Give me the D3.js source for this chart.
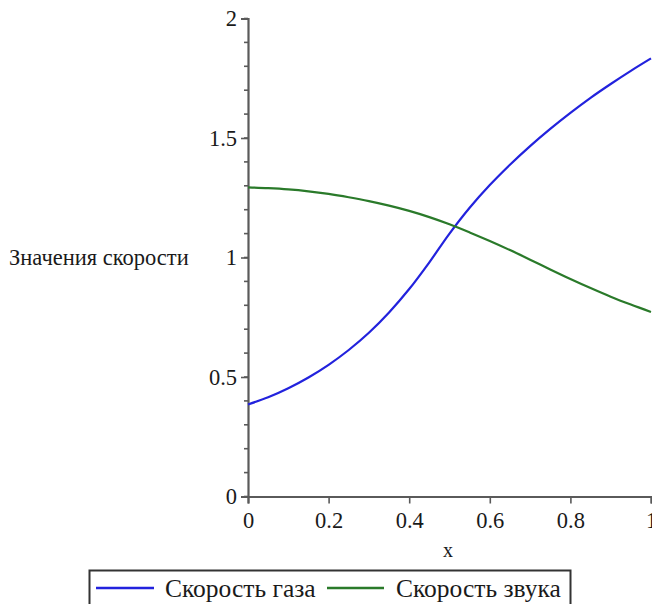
<!DOCTYPE html>
<html>
<head>
<meta charset="utf-8">
<script src="https://cdn.jsdelivr.net/npm/d3@7"></script>
<style>
  html, body { margin: 0; padding: 0; background: #fff; }
  svg { display: block; }
  text { font-family: "Liberation Serif", "DejaVu Serif", "Times New Roman", serif; fill: #1a1a1a; }
</style>
</head>
<body>
<svg id="chart" width="652" height="604"></svg>
<script>
// Positions along the channel
const xs = [0, 0.05, 0.1, 0.15, 0.2, 0.25, 0.3, 0.35, 0.4, 0.45, 0.5,
            0.55, 0.6, 0.65, 0.7, 0.75, 0.8, 0.85, 0.9, 0.95, 1.0];
// Gas velocity
const gasSpeed = [0.385, 0.415, 0.453, 0.498, 0.551, 0.613, 0.685, 0.770, 0.868, 0.980, 1.100,
                  1.208, 1.303, 1.388, 1.466, 1.538, 1.605, 1.668, 1.726, 1.781, 1.833];
// Speed of sound
const soundSpeed = [1.293, 1.290, 1.285, 1.277, 1.266, 1.252, 1.236, 1.217, 1.195, 1.169, 1.139,
                    1.105, 1.069, 1.031, 0.991, 0.950, 0.910, 0.872, 0.836, 0.803, 0.772];

const seriesNames = ["Скорость газа", "Скорость звука"];
const seriesColors = ["#2222dd", "#2a7a2a"];
const xTicks = [0, 0.2, 0.4, 0.6, 0.8, 1];
const yTicks = [0, 0.5, 1, 1.5, 2];
const yMinorTicks = d3.range(0, 2.0001, 0.1);
const xTickLabels = ["0", "0.2", "0.4", "0.6", "0.8", "1"];
const yTickLabels = ["0", "0.5", "1", "1.5", "2"];
const yTitle = "Значения скорости";
const xTitle = "x";

const serif = '"Liberation Serif", "DejaVu Serif", "Times New Roman", serif';
const svg = d3.select("#chart");
const x = d3.scaleLinear().domain([0, 1]).range([248, 651]);
const y = d3.scaleLinear().domain([0, 2]).range([496.5, 18.5]);
const axisColor = "#5a5a5a";

// Minor y ticks
svg.append("g").selectAll("line").data(yMinorTicks).join("line")
  .attr("x1", x(0) - 4).attr("x2", x(0))
  .attr("y1", d => y(d)).attr("y2", d => y(d))
  .attr("stroke", axisColor).attr("stroke-width", 1.6);

// Major y ticks and labels
const yAxis = d3.axisLeft(y).tickValues(yTicks)
  .tickFormat((d, i) => yTickLabels[i]).tickSize(7).tickPadding(4);
const yG = svg.append("g").attr("transform", `translate(${x(0)},0)`).call(yAxis);
yG.select(".domain").attr("stroke", axisColor).attr("stroke-width", 2.2);
yG.selectAll(".tick line").attr("stroke", axisColor).attr("stroke-width", 1.6);
yG.selectAll(".tick text").attr("font-size", 22.5)
  .attr("font-family", serif).attr("fill", "#1a1a1a");

// x axis
const xAxis = d3.axisBottom(x).tickValues(xTicks)
  .tickFormat((d, i) => xTickLabels[i]).tickSize(7).tickPadding(9);
const xG = svg.append("g").attr("transform", `translate(0,${y(0)})`).call(xAxis);
xG.select(".domain").attr("stroke", axisColor).attr("stroke-width", 2.2);
xG.selectAll(".tick line").attr("stroke", axisColor).attr("stroke-width", 1.6);
xG.selectAll(".tick text").attr("font-size", 22.5)
  .attr("font-family", serif).attr("fill", "#1a1a1a");

// Axis titles
svg.append("text").attr("x", 9).attr("y", 265)
  .attr("font-family", serif).attr("font-size", 22.5).text(yTitle);
svg.append("text").attr("x", 448).attr("y", 557)
  .attr("font-family", serif)
  .attr("text-anchor", "middle").attr("font-size", 20).text(xTitle);

// Curves
const line = d3.line()
  .x(d => x(d[0]))
  .y(d => y(d[1]))
  .curve(d3.curveCatmullRom);
[gasSpeed, soundSpeed].forEach((vals, i) => {
  svg.append("path")
    .datum(xs.map((xv, j) => [xv, vals[j]]))
    .attr("fill", "none")
    .attr("stroke", seriesColors[i])
    .attr("stroke-width", 2.2)
    .attr("d", line);
});

// Legend
const lg = svg.append("g");
lg.append("rect").attr("x", 89.5).attr("y", 570.5).attr("width", 481).attr("height", 40)
  .attr("fill", "#fff").attr("stroke", "#333").attr("stroke-width", 2);
const legendItems = [
  { x1: 96, x2: 154, tx: 165 },
  { x1: 327, x2: 384, tx: 396 }
];
legendItems.forEach((it, i) => {
  lg.append("line").attr("x1", it.x1).attr("x2", it.x2)
    .attr("y1", 588).attr("y2", 588)
    .attr("stroke", seriesColors[i]).attr("stroke-width", 2.4);
  lg.append("text").attr("x", it.tx).attr("y", 597)
    .attr("font-family", serif)
    .attr("font-size", 25.5).text(seriesNames[i]);
});
</script>
</body>
</html>
